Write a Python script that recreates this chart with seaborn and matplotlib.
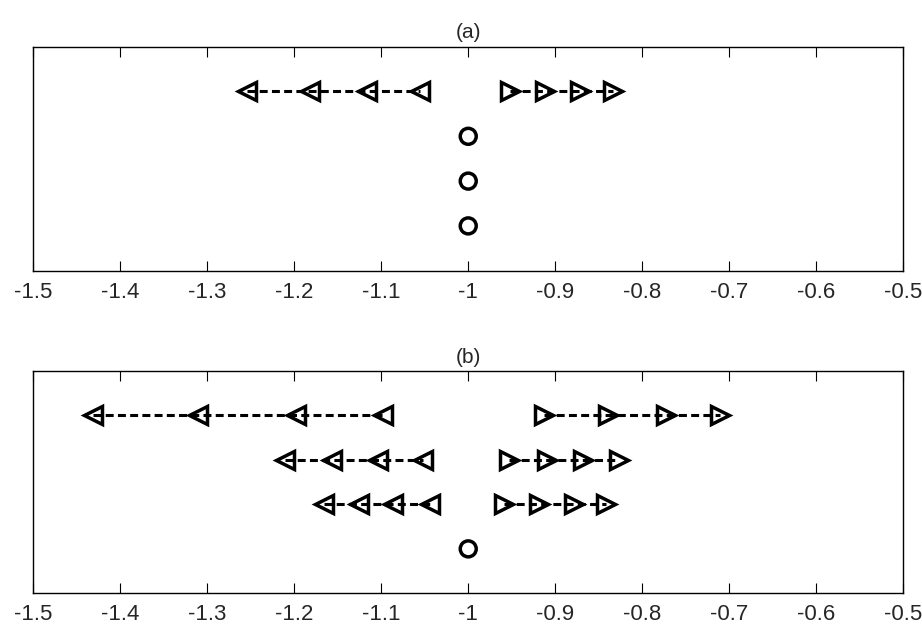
import matplotlib
matplotlib.use("Agg")
import matplotlib.pyplot as plt
import seaborn as sns
import pandas as pd

# Panel (a): one row of left/right moving roots and fixed zeros at x = -1
a_left_x = [-1.254, -1.182, -1.117, -1.056]
a_right_x = [-0.952, -0.912, -0.871, -0.833]
a_row_y = 4
a_circle_y = [1, 2, 3]

# Panel (b): three rows of roots and a single zero
b_left_x = [
    [-1.431, -1.311, -1.198, -1.098],
    [-1.211, -1.157, -1.104, -1.052],
    [-1.166, -1.126, -1.086, -1.044],
]
b_right_x = [
    [-0.913, -0.839, -0.772, -0.711],
    [-0.953, -0.909, -0.868, -0.827],
    [-0.959, -0.919, -0.878, -0.841],
]
b_row_y = [4, 3, 2]
b_circle_y = [1]

circle_x = -1.0
x_ticks = [-1.5, -1.4, -1.3, -1.2, -1.1, -1, -0.9, -0.8, -0.7, -0.6, -0.5]
x_tick_labels = ["-1.5", "-1.4", "-1.3", "-1.2", "-1.1", "-1", "-0.9", "-0.8", "-0.7", "-0.6", "-0.5"]
titles = ["(a)", "(b)"]

sns.set_style("white")
plt.rcParams["font.family"] = ["Liberation Sans", "DejaVu Sans"]

fig = plt.figure(figsize=(9.22, 6.31), dpi=100)
ax_a = fig.add_axes([0.0363, 0.571, 0.9431, 0.355])
ax_b = fig.add_axes([0.0363, 0.0597, 0.9431, 0.3523])

DASH = (0, (2.6, 1.4))
LW = 2.2
MS = 12.5
MEW = 2.5


def draw_row(ax, xs, y, marker):
    df = pd.DataFrame({"x": xs, "y": [y] * len(xs)})
    sns.lineplot(
        data=df, x="x", y="y", ax=ax, color="black", linewidth=LW,
        linestyle=DASH, marker=marker, markersize=MS,
        markerfacecolor="none", markeredgecolor="black",
        markeredgewidth=MEW, sort=True, estimator=None,
    )


def draw_circles(ax, ys):
    df = pd.DataFrame({"x": [circle_x] * len(ys), "y": ys})
    sns.scatterplot(
        data=df, x="x", y="y", ax=ax, marker="o", s=11.5 ** 2,
        facecolors="none", edgecolor="black", linewidth=MEW,
    )


draw_row(ax_a, a_left_x, a_row_y, "<")
draw_row(ax_a, a_right_x, a_row_y, ">")
draw_circles(ax_a, a_circle_y)

for lx, rx, y in zip(b_left_x, b_right_x, b_row_y):
    draw_row(ax_b, lx, y, "<")
    draw_row(ax_b, rx, y, ">")
draw_circles(ax_b, b_circle_y)

for ax, title in zip([ax_a, ax_b], titles):
    ax.set_xlim(-1.5, -0.5)
    ax.set_ylim(0, 5)
    ax.set_xticks(x_ticks)
    ax.set_xticklabels(x_tick_labels)
    ax.set_yticks([])
    ax.set_xlabel("")
    ax.set_ylabel("")
    ax.tick_params(axis="x", direction="in", length=7.5, width=0.8,
                   top=True, bottom=True, labelsize=16, pad=8,
                   color="black")
    for sp in ax.spines.values():
        sp.set_visible(True)
        sp.set_color("black")
        sp.set_linewidth(1.0)
    ax.set_title(title, fontsize=15, pad=6)

fig.savefig("out.png", dpi=100, facecolor="white")
